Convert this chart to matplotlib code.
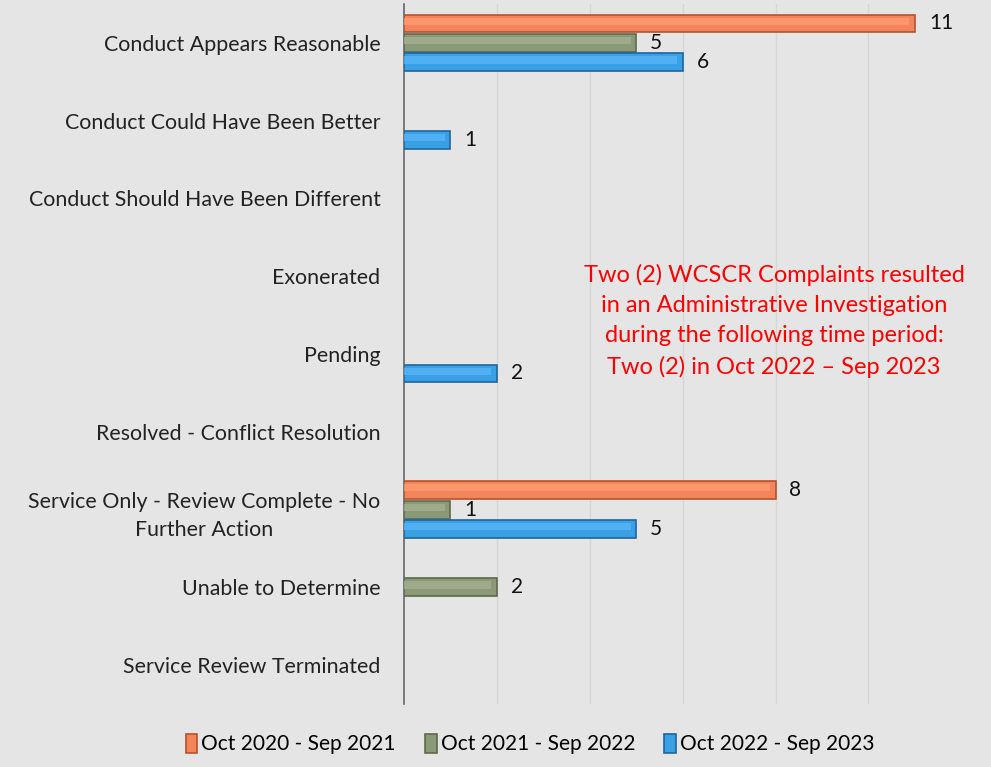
import numpy as np
import matplotlib
matplotlib.use("Agg")
import matplotlib.pyplot as plt

# categories and counts per period
categories = [
    "Conduct Appears Reasonable",
    "Conduct Could Have Been Better",
    "Conduct Should Have Been Different",
    "Exonerated",
    "Pending",
    "Resolved - Conflict Resolution",
    "Service Only - Review Complete - No\nFurther Action",
    "Unable to Determine",
    "Service Review Terminated",
]
series_names = ["Oct 2020 - Sep 2021", "Oct 2021 - Sep 2022", "Oct 2022 - Sep 2023"]
oct20_sep21 = [11, 0, 0, 0, 0, 0, 8, 0, 0]
oct21_sep22 = [5, 0, 0, 0, 0, 0, 1, 2, 0]
oct22_sep23 = [6, 1, 0, 0, 2, 0, 5, 0, 0]

note = ("Two (2) WCSCR Complaints resulted\nin an Administrative Investigation\n"
        "during the following time period:\nTwo (2) in Oct 2022 \u2013 Sep 2023")

plt.rcParams['font.family'] = ['Lato', 'DejaVu Sans']

face = ["#f4845a", "#8a9978", "#3aa0e6"]
edge = ["#b5532d", "#5d694f", "#1e659c"]
light = ["#ff9f76", "#a6b392", "#5cb8f6"]

fig = plt.figure(figsize=(9.91, 7.67), dpi=100)
fig.patch.set_facecolor("#e5e5e5")
ax = fig.add_axes([404 / 991, 63 / 767, 587 / 991, 700 / 767])
ax.set_facecolor("none")

y = np.arange(len(categories))
h = 0.23
offs = [-0.25, 0, 0.25]
handles = []
for vals, off, fc, ec, lc, name in zip([oct20_sep21, oct21_sep22, oct22_sep23], offs,
                                       face, edge, light, series_names):
    vals = np.array(vals)
    pos = y + off
    m = vals > 0
    b = ax.barh(pos[m], vals[m], height=h, color=fc, edgecolor=ec, linewidth=1.2,
                label=name, zorder=3)
    # lighter band on the upper part for a bevelled look
    ax.barh(pos[m] - 0.03, vals[m] - 0.12, height=h * 0.4, color=lc, linewidth=0,
            alpha=0.7, zorder=4)
    handles.append(b)
    for yi, v in zip(pos[m], vals[m]):
        ax.text(v + 0.3, yi, str(v), va="center", ha="left", fontsize=15,
                color="#111111")

ax.set_ylim(len(categories) - 0.5, -0.5)
ax.set_xlim(0, 12.64)
ax.set_yticks(y)
ax.set_yticklabels(categories, fontsize=15.4, color="#222222", ha="right",
                   multialignment="center", linespacing=1.55)
ax.tick_params(axis="y", length=0, pad=17)
ax.set_xticks([2, 4, 6, 8, 10])
ax.tick_params(axis="x", length=0, labelbottom=False)
ax.grid(axis="x", color="#d6d6d6", linewidth=1, zorder=0)
for s in ["top", "right", "bottom"]:
    ax.spines[s].set_visible(False)
ax.spines["left"].set_color("#666666")
ax.spines["left"].set_linewidth(1.2)

fig.text(774 / 991, 1 - 321 / 767, note, ha="center", va="center", fontsize=17,
         color="#ff0000", linespacing=1.55)

fig.legend(handles=handles, loc="lower center", bbox_to_anchor=(0.535, -0.008), ncol=3,
           frameon=False, fontsize=15, handlelength=0.55, handleheight=1.0,
           handletextpad=0.2, columnspacing=1.4)

fig.savefig("out.png", dpi=100, facecolor=fig.get_facecolor())
